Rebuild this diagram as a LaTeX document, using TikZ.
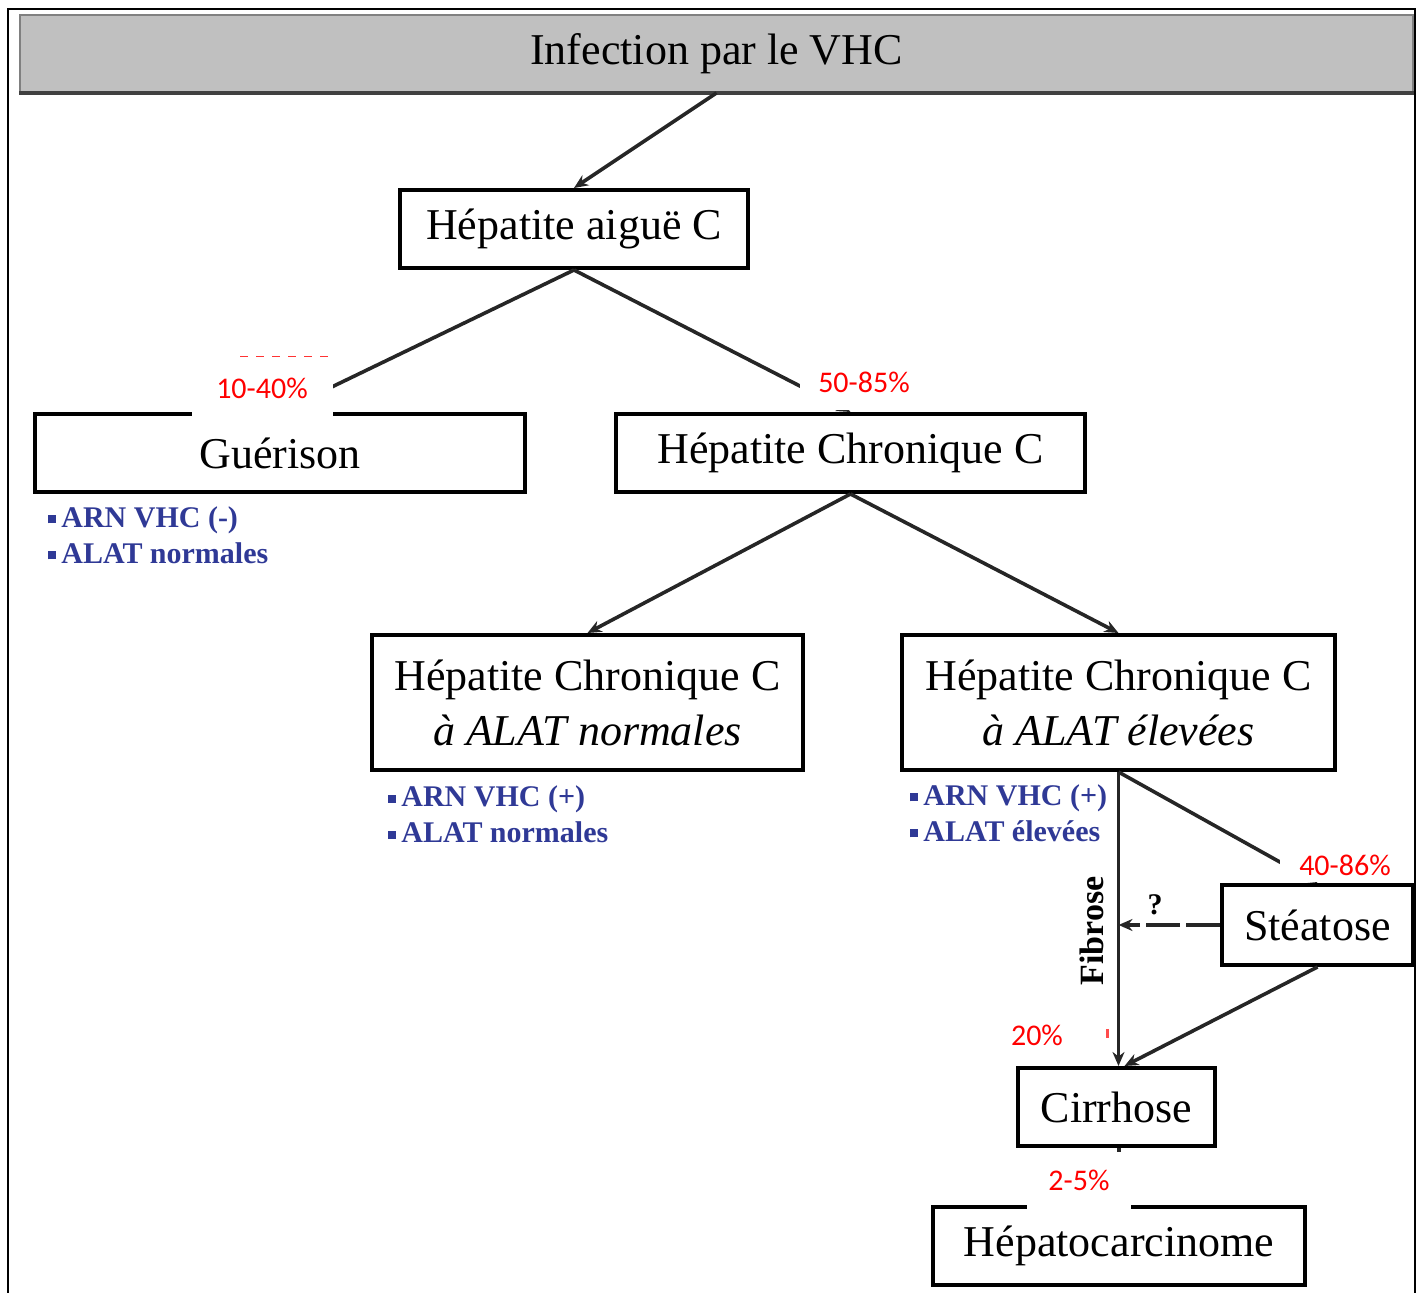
\documentclass[tikz,border=0pt]{standalone}
\usepackage{fontspec}
\setmainfont{Liberation Serif}
\newfontfamily\tauxfont{Carlito}
\usetikzlibrary{arrows.meta}

\definecolor{bleunote}{RGB}{47,57,150}
\definecolor{grisentete}{RGB}{192,192,192}
\newcommand{\puce}{\rule[2pt]{4pt}{4pt}\hspace{2.5pt}}

\tikzset{
  etape/.style = {draw = black, line width = 2pt, fill = white, inner sep = 0pt,
    align = center, font = \fontsize{22}{27.5}\selectfont},
  fleche/.style = {-{Stealth[length = 7pt, width = 6pt]}, line width = 1.8pt,
    draw = black!85},
  taux/.style = {fill = white, inner sep = 0pt, text = red,
    font = \tauxfont\fontsize{15}{17}\selectfont},
  note/.style = {anchor = west, inner sep = 0pt, align = left, text = bleunote,
    font = \bfseries\fontsize{15}{18}\selectfont},
}

\begin{document}
\begin{tikzpicture}[x = 0.5pt, y = -0.5pt]
  \useasboundingbox (0, 0) rectangle (1421, 1293);
  \draw[line width = 1pt] (8, 1310) -- (8, 9) -- (1415, 9) -- (1415, 1310);

  % en-tete
  \node[draw = black!50, line width = 1pt, fill = grisentete, inner sep = 0pt,
    minimum width = 696.5pt, minimum height = 38.5pt,
    font = \fontsize{22}{27.5}\selectfont] (titre) at (716.5, 53.5)
    {Infection par le VHC};
  \draw[line width = 2pt, black!75] (titre.south west) -- (titre.south east);

  % etapes
  \node[etape, minimum width = 174pt, minimum height = 39pt] (aigue)
    at (574, 229) {Hépatite aiguë C};
  \node[etape, minimum width = 245pt, minimum height = 39pt] (guerison)
    at (280, 453) {Guérison};
  \node[etape, minimum width = 234.5pt, minimum height = 39pt] (chronique)
    at (850.5, 453) {Hépatite Chronique C};
  \node[etape, minimum width = 215.5pt, minimum height = 67.5pt] (normales)
    at (587.5, 702.5) {Hépatite Chronique C\\\textit{à ALAT normales}};
  \node[etape, minimum width = 216.5pt, minimum height = 67.5pt] (elevees)
    at (1118.5, 702.5) {Hépatite Chronique C\\\textit{à ALAT élevées}};
  \node[etape, minimum width = 95.5pt, minimum height = 40pt] (steatose)
    at (1317.5, 925) {Stéatose};
  \node[etape, minimum width = 98.5pt, minimum height = 39pt] (cirrhose)
    at (1116.5, 1107) {Cirrhose};
  \node[etape, minimum width = 186pt, minimum height = 39pt] (hepato)
    at (1119, 1246) {Hépatocarcinome};

  % liaisons
  \draw[fleche] (titre.south) -- (aigue.north);
  \draw[fleche] (aigue.south) -- (guerison.north);
  \draw[fleche] (aigue.south) -- (chronique.north);
  \draw[fleche] (chronique.south) -- (normales.north);
  \draw[fleche] (chronique.south) -- (elevees.north);
  \draw[fleche] (elevees.south) -- (elevees.south |- cirrhose.north);
  \draw[fleche] (elevees.south) -- (steatose.north);
  \draw[fleche, dash pattern = on 17pt off 3pt]
    (steatose.west) -- (steatose.west -| elevees.south);
  \draw[fleche] (steatose.south) -- ([xshift = 4pt]cirrhose.north);
  \draw[fleche] (cirrhose.south -| hepato.north) -- (hepato.north);

  \node[rotate = 90, inner sep = 0pt, font = \bfseries\fontsize{17}{20}\selectfont]
    (fibrose) at (1092, 931) {Fibrose};
  \node[inner sep = 0pt, font = \bfseries\fontsize{15}{18}\selectfont]
    (doute) at (1155, 905) {?};

  % pourcentages
  \draw[red!80, line width = 0.5pt, dash pattern = on 4pt off 4pt]
    (240, 357) -- (328, 357);
  \node[taux, minimum width = 70.5pt, minimum height = 28pt] (t1040)
    at (262, 388) {10-40\%};
  \node[taux, minimum width = 64pt, minimum height = 28pt] (t5085)
    at (864, 382) {50-85\%};
  \node[taux, minimum width = 65pt, minimum height = 17pt] (t4086)
    at (1345, 865) {40-86\%};
  \node[taux] (t20) at (1037, 1035) {20\%};
  \draw[red!70, line width = 1.5pt] (1107, 1029) -- (1107, 1038);
  \node[taux, minimum width = 52pt, minimum height = 28.5pt] (t25)
    at (1079, 1180.5) {2-5\%};

  % marqueurs
  \node[note] (noteguerison) at (48, 535)
    {\puce ARN VHC (-)\\\puce ALAT normales};
  \node[note] (notenormales) at (388, 814.5)
    {\puce ARN VHC (+)\\\puce ALAT normales};
  \node[note] (noteelevees) at (910, 813)
    {\puce ARN VHC (+)\\\puce ALAT élevées};
\end{tikzpicture}
\end{document}
